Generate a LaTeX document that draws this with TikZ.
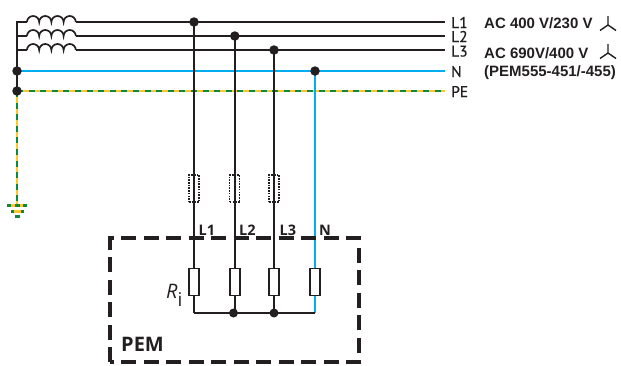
\documentclass[tikz,border=0pt]{standalone}
\usepackage{fontspec}
\setmainfont[FakeBold=0.6]{PT Sans}
\newfontfamily\arialf{Liberation Sans}
\newfontfamily\labelf{Open Sans}
\definecolor{ink}{HTML}{231F20}
\definecolor{nblue}{HTML}{00AEEF}
\definecolor{peyellow}{HTML}{FFC72C}
\definecolor{pegreen}{HTML}{0B8A3E}
\tikzset{
 wire/.style={draw=ink,line width=1.7pt},
 nwire/.style={draw=nblue,line width=1.8pt},
 dot/.style={circle,fill=ink,inner sep=0pt,minimum size=9.5pt},
 fuse/.style={draw=ink,line width=1.2pt,dash pattern=on 1.6pt off 1.1pt,fill=none,minimum width=10pt,minimum height=27pt,inner sep=0pt,rectangle},
 res/.style={draw=ink,line width=1.6pt,fill=white,minimum width=10pt,minimum height=27pt,inner sep=0pt,rectangle},
 lab/.style={inner sep=0pt,anchor=base west,font=\fontsize{15.5}{15.5}\selectfont,text=ink},
 tlab/.style={inner sep=0pt,anchor=base west,font=\labelf\bfseries\fontsize{14.5}{14.5}\selectfont,text=ink},
 info/.style={inner sep=0pt,anchor=base west,font=\arialf\bfseries\fontsize{15}{15}\selectfont,text=ink},
 star/.style={draw=ink,line width=1.4pt},
 gbar/.style={draw=pegreen,line width=3pt},
 ybar/.style={draw=peyellow,line width=3pt},
}
\newcommand{\coilpath}[1]{%
 \draw[wire] (#1) ++(10,0) arc[start angle=180,end angle=360,x radius=6.1,y radius=6]
   arc[start angle=180,end angle=360,x radius=6.1,y radius=6]
   arc[start angle=180,end angle=360,x radius=6.1,y radius=6]
   arc[start angle=180,end angle=360,x radius=6.1,y radius=6];}
\newcommand{\pestroke}[3]{%
 \draw[draw=peyellow,line width=#3] (#1) -- (#2);
 \draw[draw=pegreen,line width=#3,dash pattern=on 6pt off 5.6pt] (#1) -- (#2);}
\begin{document}
\begin{tikzpicture}[x=1pt,y=-1pt]
\useasboundingbox (0,0) rectangle (621,365);
% coordinates
\coordinate (b1) at (17,22); \coordinate (b2) at (17,36); \coordinate (b3) at (17,50);
\coordinate (e1) at (445,22); \coordinate (e2) at (445,36); \coordinate (e3) at (445,50);
\coordinate (en) at (445,71); \coordinate (ep) at (445,91);
\coordinate (g) at (17,205);
\coordinate (c1) at (76,22); \coordinate (c2) at (76,36); \coordinate (c3) at (76,50);
\coordinate (bb1) at (194,313); \coordinate (bb4) at (315,313);
\coordinate (d1c) at (194,22); \coordinate (d2c) at (234.8,36); \coordinate (d3c) at (274,50); \coordinate (d4c) at (315,71);
\coordinate (dnc) at (17,71); \coordinate (dpc) at (17,91);
\coordinate (m2c) at (234.8,313); \coordinate (m3c) at (274,313);
% PE
\pestroke{dpc}{ep}{2pt}
\pestroke{dpc}{g}{2.6pt}
\draw[ybar] (7,205) -- (27,205);
\draw[gbar] (7,205) -- (11,205) (14.5,205) -- (19.5,205) (23,205) -- (27,205);
\draw[ybar] (11,211) -- (24,211);
\draw[gbar] (11,211) -- (14,211) (21,211) -- (24,211);
\draw[gbar] (15,216.5) -- (20,216.5);
% neutrals
\draw[nwire] (dnc) -- (en);
\draw[nwire] (d4c) -- (bb4);
% lines
\draw[wire] (dpc) -- (b1) -- ++(10,0);
\draw[wire] (b2) -- ++(10,0);
\draw[wire] (b3) -- ++(10,0);
\coilpath{b1}\coilpath{b2}\coilpath{b3}
\draw[wire] (c1) -- (e1);
\draw[wire] (c2) -- (e2);
\draw[wire] (c3) -- (e3);
\draw[wire] (d1c) -- (bb1);
\draw[wire] (d2c) -- (m2c);
\draw[wire] (d3c) -- (m3c);
\draw[wire] (bb1) -- (m2c) -- (m3c) -- (bb4);
% dots
\node[dot] (dn) at (dnc) {};
\node[dot] (dp) at (dpc) {};
\node[dot] (d1) at (d1c) {};
\node[dot] (d2) at (d2c) {};
\node[dot] (d3) at (d3c) {};
\node[dot] (d4) at (d4c) {};
\node[dot,minimum size=9pt] (m2) at (233.5,313) {};
\node[dot,minimum size=9pt] (m3) at (m3c) {};
% fuses
\node[fuse] (f1) at (194,188.5) {};
\node[fuse] (f2) at (234.8,188.5) {};
\node[fuse] (f3) at (274,188.5) {};
% resistors
\node[res] (r1) at (194,282) {};
\node[res] (r2) at (234.8,282) {};
\node[res] (r3) at (274,282) {};
\node[res] (r4) at (315,282) {};
% PEM box
\draw[draw=ink,line width=3.4pt,dash pattern=on 15pt off 7.5pt] (110,362) -- (110,238) -- (359,238) -- (359,362) -- cycle;
% terminal labels
\node[tlab] (t1) at (198.5,235.5) {L1};
\node[tlab] (t2) at (239,235.5) {L2};
\node[tlab] (t3) at (279.5,235.5) {L3};
\node[tlab] (t4) at (319,235.5) {N};
\node[inner sep=0pt,anchor=base west,font=\labelf\bfseries\fontsize{20}{20}\selectfont,text=ink] (pem) at (121,351) {PEM};
\node[inner sep=0pt,anchor=base west,font=\labelf\fontsize{20}{20}\selectfont,text=ink] (ri) at (166,298) {\textit{R}};
\node[inner sep=0pt,anchor=base west,font=\labelf\fontsize{19}{19}\selectfont,text=ink] (rib) at (177.5,306.5) {i};
% line labels
\node[lab] (l1) at (451,28) {L1};
\node[lab] (l2) at (451,42) {L2};
\node[lab] (l3) at (451,56.5) {L3};
\node[lab] (ln) at (451,77) {N};
\node[lab] (lp) at (451,97) {PE};
% info
\node[info] (i1) at (484,28) {AC 400 V/230 V};
\node[info] (i2) at (484,58) {AC 690V/400 V};
\node[info] (i3) at (484,76) {(PEM555-451/-455)};
% stars
\coordinate (s1) at (608,25);
\coordinate (s2) at (608,53);
\draw[star] (s1) -- ++(0,-9) (s1) -- ++(-8,5.5) (s1) -- ++(8,5.5);
\draw[star] (s2) -- ++(0,-9) (s2) -- ++(-8,5.5) (s2) -- ++(8,5.5);
\end{tikzpicture}
\end{document}
